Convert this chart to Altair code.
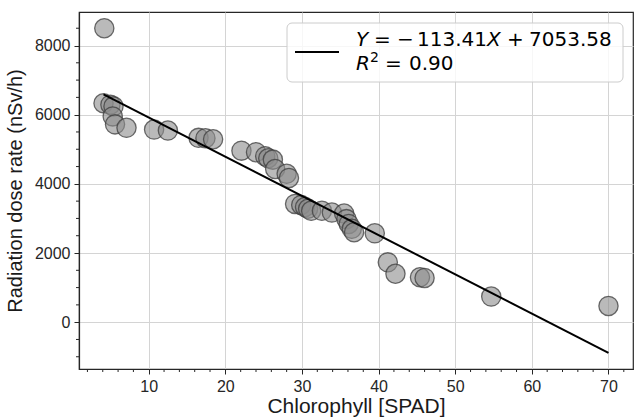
import altair as alt
import pandas as pd

# ---- data ----
chlorophyll = [4.2, 4.1, 5.0, 5.4, 5.3, 5.6, 7.1, 10.7, 12.5, 16.5, 17.4, 18.4,
               22.1, 24.0, 25.2, 25.6, 26.2, 26.5, 28.0, 28.3,
               29.1, 29.9, 30.4, 30.8, 31.2, 32.6, 33.9, 35.5, 35.8, 36.1, 36.5, 36.8,
               39.5, 41.2, 42.2, 45.4, 46.0, 54.7, 70.0]
dose_rate = [8500, 6330, 6290, 6240, 5950, 5720, 5620, 5570, 5540, 5330, 5320, 5290,
             4960, 4915, 4800, 4740, 4700, 4430, 4290, 4170,
             3420, 3390, 3330, 3280, 3220, 3220, 3170, 3140, 2980, 2840, 2700, 2600,
             2570, 1730, 1400, 1300, 1280, 740, 470]
slope = -113.41
intercept = 7053.58

x_major = [10, 20, 30, 40, 50, 60, 70]
y_major = [0, 2000, 4000, 6000, 8000]
x_minor = [v for v in range(2, 73, 2) if v % 10 != 0]
y_minor = [v for v in range(-1000, 9000, 500) if v % 2000 != 0]

W, H = 554, 357
xscale = alt.Scale(domain=[0.9, 73.2], nice=False, zero=False)
yscale = alt.Scale(domain=[-1354, 8969], nice=False, zero=False)

pts = pd.DataFrame({"x": chlorophyll, "y": dose_rate})
fit = pd.DataFrame({"x": [min(chlorophyll), max(chlorophyll)]})
fit["y"] = slope * fit["x"] + intercept

FONT = "Liberation Sans"
DARK = "#262626"

points = alt.Chart(pts).mark_circle(
    size=370, fill="#8c8c8c", fillOpacity=0.6, stroke="#3c3c3c",
    strokeOpacity=0.75, strokeWidth=1.3, opacity=1
).encode(
    x=alt.X("x:Q", scale=xscale, axis=alt.Axis(
        values=x_major, format="d", title="Chlorophyll [SPAD]",
        labelFont=FONT, labelFontSize=16, labelColor=DARK, labelPadding=4,
        tickSize=5, tickColor=DARK, tickWidth=1,
        domainColor=DARK, domainWidth=1.2,
        grid=True, gridColor="#d4d4d4", gridWidth=1,
        titleFont=FONT, titleFontSize=21, titleFontWeight="normal",
        titleColor="#1a1a1a", titlePadding=1)),
    y=alt.Y("y:Q", scale=yscale, axis=alt.Axis(
        values=y_major, format="d", title="Radiation dose rate (nSv/h)",
        labelFont=FONT, labelFontSize=16, labelColor=DARK, labelPadding=4,
        tickSize=5, tickColor=DARK, tickWidth=1,
        domainColor=DARK, domainWidth=1.2,
        grid=True, gridColor="#d4d4d4", gridWidth=1,
        titleFont=FONT, titleFontSize=20, titleFontWeight="normal",
        titleColor="#1a1a1a", titlePadding=9)),
)

line = alt.Chart(fit).mark_line(color="black", strokeWidth=2).encode(
    x=alt.X("x:Q", scale=xscale),
    y=alt.Y("y:Q", scale=yscale),
)

xminor = alt.Chart(pd.DataFrame({"v": x_minor})).mark_rule(color=DARK, strokeWidth=1).encode(
    x=alt.X("v:Q", scale=xscale), y=alt.value(H), y2=alt.value(H + 3))
yminor = alt.Chart(pd.DataFrame({"v": y_minor})).mark_rule(color=DARK, strokeWidth=1).encode(
    y=alt.Y("v:Q", scale=yscale), x=alt.value(-3), x2=alt.value(0))

one = pd.DataFrame({"a": [0]})
box = alt.Chart(one).mark_rect(
    fill="white", fillOpacity=0.8, stroke="#cccccc", strokeWidth=1, cornerRadius=5
).encode(x=alt.value(208), x2=alt.value(544), y=alt.value(11), y2=alt.value(70))
legline = alt.Chart(one).mark_rule(color="black", strokeWidth=2).encode(
    x=alt.value(216), x2=alt.value(260), y=alt.value(40))

pieces = [
    ("Y", 277, 34, "italic", 20),
    ("=", 295, 34, "normal", 20),
    ("\u2212", 318, 34, "normal", 20),
    ("113.41", 338, 34, "normal", 20),
    ("X", 408, 34, "italic", 20),
    ("+", 428, 34, "normal", 20),
    ("7053.58", 450, 34, "normal", 20),
    ("R", 277, 58, "italic", 20),
    ("2", 291, 50, "normal", 14),
    ("=", 306, 58, "normal", 20),
    ("0.90", 330, 58, "normal", 20),
]
texts = []
for t, px, py, st, fs in pieces:
    texts.append(alt.Chart(one).mark_text(
        font="DejaVu Sans", fontSize=fs, fontStyle=st, align="left",
        baseline="alphabetic", color="black"
    ).encode(x=alt.value(px), y=alt.value(py), text=alt.value(t)))

chart = alt.layer(points, line, xminor, yminor, box, legline, *texts).properties(
    width=W, height=H,
    autosize=alt.AutoSizeParams(type="none"),
    padding={"left": 79, "top": 12, "right": 2, "bottom": 50},
).configure_view(stroke=DARK, strokeWidth=1.2)

chart.save("out.html", embed_options={"renderer": "svg", "actions": False})
